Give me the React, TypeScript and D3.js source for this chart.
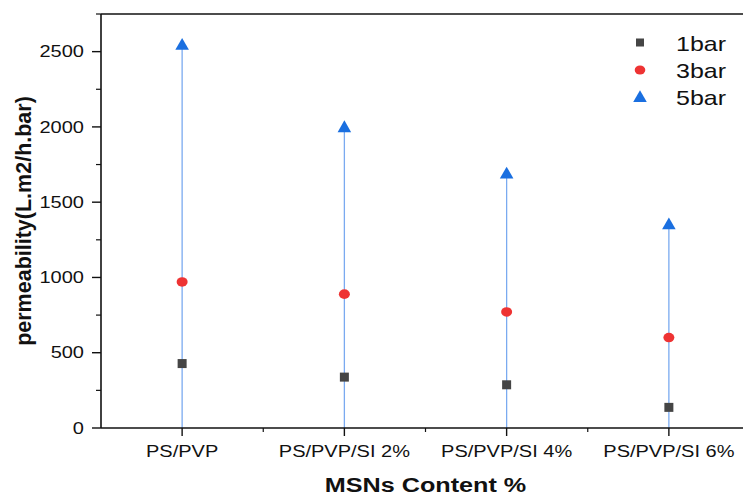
import React from "react";
import * as d3 from "d3";

const categories = ["PS/PVP", "PS/PVP/SI 2%", "PS/PVP/SI 4%", "PS/PVP/SI 6%"];
const bar1 = [428, 338, 287, 137];
const bar3 = [970, 889, 771, 601];
const bar5 = [2545, 1998, 1690, 1353];
const yTicks = [0, 500, 1000, 1500, 2000, 2500];
const yMinorTicks = [250, 750, 1250, 1750, 2250, 2750];
const legendLabels = ["1bar", "3bar", "5bar"];

const W = 743;
const H = 495;
const FONT = "Arial, 'Liberation Sans', sans-serif";
const SX = 1.25;

export default function App() {
  const left = 101;
  const right = 750;
  const top = 14;
  const bottom = 428;
  const x = d3.scaleLinear().domain([0.5, categories.length + 0.5]).range([left, right]);
  const y = d3.scaleLinear().domain([0, 2750]).range([bottom, top]);
  const xMinor = d3.range(1.5, categories.length, 1);
  const tri = d3.symbol().type(d3.symbolTriangle).size(80)();

  return (
    <svg
      width={W}
      height={H}
      style={{ position: "absolute", left: 0, top: 0, background: "#fff" }}
      fontFamily={FONT}
    >
      <rect x={0} y={0} width={W} height={H} fill="#fff" />
      {categories.map((c, i) => (
        <line
          key={"s" + i}
          x1={x(i + 1)}
          x2={x(i + 1)}
          y1={y(0)}
          y2={y(bar5[i])}
          stroke="#7aaaf0"
          strokeWidth={1.3}
        />
      ))}
      <line x1={left} x2={W + 10} y1={top} y2={top} stroke="#111" strokeWidth={1.6} />
      <line x1={left} x2={W + 10} y1={bottom} y2={bottom} stroke="#111" strokeWidth={1.6} />
      <line x1={left} x2={left} y1={top} y2={bottom} stroke="#111" strokeWidth={1.6} />
      {yTicks.map((t) => (
        <g key={"yt" + t}>
          <line x1={left - 9} x2={left} y1={y(t)} y2={y(t)} stroke="#111" strokeWidth={1.4} />
          <text
            transform={`translate(${left - 17},${y(t)}) scale(${SX},1)`}
            dy="0.36em"
            textAnchor="end"
            fontSize={16}
            fill="#111"
          >
            {t}
          </text>
        </g>
      ))}
      {yMinorTicks.map((t) => (
        <line key={"ym" + t} x1={left - 5} x2={left} y1={y(t)} y2={y(t)} stroke="#111" strokeWidth={1.2} />
      ))}
      {categories.map((c, i) => (
        <g key={"xt" + i}>
          <line x1={x(i + 1)} x2={x(i + 1)} y1={bottom} y2={bottom + 8} stroke="#111" strokeWidth={1.4} />
          <text
            transform={`translate(${x(i + 1)},457) scale(${SX},1)`}
            textAnchor="middle"
            fontSize={16}
            fill="#111"
          >
            {c}
          </text>
        </g>
      ))}
      {xMinor.map((v) => (
        <line key={"xm" + v} x1={x(v)} x2={x(v)} y1={bottom} y2={bottom + 4} stroke="#111" strokeWidth={1.2} />
      ))}
      {bar1.map((v, i) => (
        <rect key={"b1" + i} x={x(i + 1) - 4.5} y={y(v) - 4.5} width={9} height={9} fill="#454545" />
      ))}
      {bar3.map((v, i) => (
        <ellipse key={"b3" + i} cx={x(i + 1)} cy={y(v)} rx={5.5} ry={4.8} fill="#ee3333" />
      ))}
      {bar5.map((v, i) => (
        <path key={"b5" + i} d={tri as string} transform={`translate(${x(i + 1)},${y(v) + 1})`} fill="#1a6fe0" />
      ))}
      <rect x={636} y={38.5} width={8} height={8} fill="#454545" />
      <ellipse cx={640} cy={70} rx={5.3} ry={4.6} fill="#ee3333" />
      <path d={tri as string} transform="translate(640,98)" fill="#1a6fe0" />
      {legendLabels.map((l, i) => (
        <text
          key={l}
          transform={`translate(676,${43 + i * 27}) scale(1.19,1)`}
          dy="0.36em"
          fontSize={21}
          fill="#111"
        >
          {l}
        </text>
      ))}
      <text
        transform={`translate(23,${(top + bottom) / 2}) rotate(-90)`}
        textAnchor="middle"
        dy="0.36em"
        fontSize={21.5}
        fontWeight="bold"
        fill="#111"
      >
        permeability(L.m2/h.bar)
      </text>
      <text
        transform={`translate(${(left + right) / 2},484) scale(1.2,1)`}
        dy="0.36em"
        textAnchor="middle"
        fontSize={21}
        fontWeight="bold"
        fill="#111"
      >
        MSNs Content %
      </text>
    </svg>
  );
}
